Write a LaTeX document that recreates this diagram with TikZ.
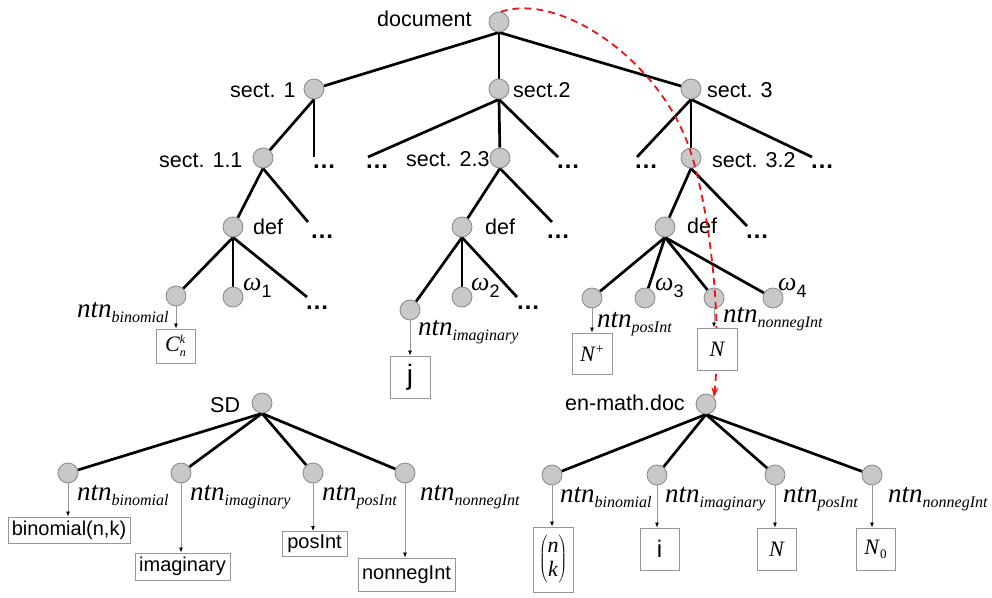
\documentclass[tikz,border=0pt]{standalone}
\usepackage{fontspec}
\setmainfont{Liberation Sans}
\newfontfamily\seriffam{Liberation Serif}
\usetikzlibrary{arrows.meta,backgrounds}

\definecolor{nodefill}{RGB}{200,200,200}
\definecolor{nodeline}{RGB}{135,135,135}
\definecolor{boxline}{RGB}{150,150,150}
\definecolor{refline}{RGB}{150,150,150}
\definecolor{linkred}{RGB}{235,20,20}

% italic "ntn" with a lowered italic index
\newcommand\ntnlabel[1]{{\seriffam\itshape\fontsize{27}{27}\selectfont ntn\raisebox{-5pt}{\fontsize{16}{16}\selectfont #1}}}
% omega with an upright numeric index
\newcommand\omlabel[1]{{\seriffam\itshape\fontsize{26}{26}\selectfont ω}\raisebox{-7pt}{\fontsize{18}{18}\selectfont #1}}

\tikzset{
  vert/.style={circle, minimum size=20pt, inner sep=0pt, fill=nodefill, draw=nodeline, line width=0.8pt},
  treeedge/.style={line width=2.7pt, black},
  lab/.style={anchor=base west, inner sep=0pt, font=\fontsize{21.5}{24}\selectfont},
  ntn/.style={anchor=base west, inner sep=0pt},
  more/.style={anchor=base west, inner sep=0pt, font=\bfseries\fontsize{24}{24}\selectfont},
  valbox/.style 2 args={draw=boxline, line width=0.9pt, fill=white, inner sep=0pt,
    minimum width=#1pt, minimum height=#2pt},
  boxtext/.style={font=\fontsize{20}{22}\selectfont},
  refarrow/.style={draw=refline, line width=0.8pt, -{Latex[length=5pt,width=4pt,color=black]}},
  link/.style={draw=linkred, line width=1.8pt, dash pattern=on 7pt off 5pt,
    -{Stealth[length=10pt,width=7pt,color=linkred]}}
}

\begin{document}
\begin{tikzpicture}[x=1pt,y=-1pt]
\useasboundingbox (0,0) rectangle (992,597);

% ---------- document tree: vertices ----------
\node[vert] (doc) at (499,22) {};
\node[vert] (s1)  at (314,89) {};
\node[vert] (s2)  at (499,89) {};
\node[vert] (s3)  at (691,89) {};
\node[vert] (s11) at (263,158) {};
\node[vert] (s23) at (500,158) {};
\node[vert] (s32) at (691,158) {};
\node[vert] (d1)  at (233,227) {};
\node[vert] (d2)  at (462,227) {};
\node[vert] (d3)  at (665,227) {};
\node[vert] (nb1) at (176,296) {};
\node[vert] (w1)  at (233,297) {};
\node[vert] (ni2) at (410,310) {};
\node[vert] (w2)  at (462,297) {};
\node[vert] (np3) at (592,298) {};
\node[vert] (w3)  at (645,298) {};
\node[vert] (nn3) at (714,298) {};
\node[vert] (w4)  at (773,298) {};

% open branches
\coordinate (s1m)  at (314,157);
\coordinate (s2ml) at (368,157);
\coordinate (s2mr) at (558,157);
\coordinate (s3ml) at (637,157);
\coordinate (s3mr) at (812,157);
\coordinate (s11m) at (308,222);
\coordinate (s23m) at (552,222);
\coordinate (s32m) at (747,226);
\coordinate (d1m)  at (307,297);
\coordinate (d2m)  at (517,297);

\node[more] (t1) at (312,168) {…};
\node[more] (t2) at (365,168) {…};
\node[more] (t3) at (556,168) {…};
\node[more] (t4) at (634,168) {…};
\node[more] (t5) at (810,168) {…};
\node[more] (t6) at (310,238) {…};
\node[more] (t7) at (546,238) {…};
\node[more] (t8) at (745,238) {…};
\node[more] (t9) at (305,309) {…};
\node[more] (t10) at (516,309) {…};

% labels
\node[lab] (ldoc) at (377,26) {document};
\node[lab] (ls1)  at (230,97) {sect. 1};
\node[lab] (ls2)  at (513,97) {sect.2};
\node[lab] (ls3)  at (707,97) {sect. 3};
\node[lab] (ls11) at (159,167) {sect. 1.1};
\node[lab] (ls23) at (406,166) {sect. 2.3};
\node[lab] (ls32) at (712,167) {sect. 3.2};
\node[lab] (ld1)  at (253,234) {def};
\node[lab] (ld2)  at (485,234) {def};
\node[lab] (ld3)  at (687,233) {def};

\node[ntn] (lnb1) at (77,317)  {\ntnlabel{binomial}};
\node[ntn] (lni2) at (418,335) {\ntnlabel{imaginary}};
\node[ntn] (lnp3) at (597,327) {\ntnlabel{posInt}};
\node[ntn] (lnn3) at (723,322) {\ntnlabel{nonnegInt}};
\node[ntn] (lw1) at (243,290) {\omlabel{1}};
\node[ntn] (lw2) at (471,290) {\omlabel{2}};
\node[ntn] (lw3) at (655,290) {\omlabel{3}};
\node[ntn] (lw4) at (778,290) {\omlabel{4}};

% notation values in the document
\node[valbox={39}{34}] (cbox) at (175.5,346)
  {\seriffam\itshape\fontsize{22}{22}\selectfont C\raisebox{-5pt}{\fontsize{12}{12}\selectfont\makebox[0pt][l]{\raisebox{13pt}{k}}n}};
\node[valbox={40}{42}] (jbox) at (410,377) {\fontsize{28}{28}\selectfont j};
\node[valbox={40}{41}] (npbox) at (592,353.5)
  {\seriffam\fontsize{22}{22}\selectfont\textit{N}\raisebox{8pt}{\fontsize{14}{14}\selectfont +}};

% ---------- SD tree ----------
\node[vert] (sd)  at (262,403) {};
\node[vert] (sa)  at (68,473) {};
\node[vert] (sb)  at (181,473) {};
\node[vert] (sc)  at (313,473) {};
\node[vert] (sdd) at (405,473) {};
\node[lab] (lsd) at (210,412) {SD};
\node[ntn] (lsa) at (77,500)  {\ntnlabel{binomial}};
\node[ntn] (lsb) at (190,500) {\ntnlabel{imaginary}};
\node[ntn] (lsc) at (322,500) {\ntnlabel{posInt}};
\node[ntn] (lsd2) at (420,500) {\ntnlabel{nonnegInt}};
\node[valbox={122}{26}, boxtext] (sbox1) at (69,530) {binomial(n,k)};
\node[valbox={95}{27}, boxtext] (sbox2) at (182.5,566.5) {imaginary};
\node[valbox={65}{25}, boxtext] (sbox3) at (314.5,544) {posInt};
\node[valbox={97}{33}, boxtext] (sbox4) at (406.5,574.5) {nonnegInt};

% ---------- en-math.doc tree ----------
\node[vert] (em) at (706,404) {};
\node[vert] (ea) at (552,475) {};
\node[vert] (eb) at (657,475) {};
\node[vert] (ec) at (775,475) {};
\node[vert] (ed) at (872,475) {};
\node[lab] (lem) at (565,410) {en-math.doc};
\node[ntn] (lea) at (560,502) {\ntnlabel{binomial}};
\node[ntn] (leb) at (665,502) {\ntnlabel{imaginary}};
\node[ntn] (lec) at (783,502) {\ntnlabel{posInt}};
\node[ntn] (led) at (888,502) {\ntnlabel{nonnegInt}};
\node[valbox={40}{65}] (ebox1) at (553,559.5)
  {\fontsize{22}{26}\selectfont$\left(\begin{tabular}{@{}c@{}}\seriffam\itshape n\\[-2pt]\seriffam\itshape k\end{tabular}\right)$};
\node[valbox={39}{42}] (ebox2) at (659.5,549) {\fontsize{24}{24}\selectfont i};
\node[valbox={39}{42}] (ebox3) at (776.5,549) {\seriffam\itshape\fontsize{22}{22}\selectfont N};
\node[valbox={39}{42}] (ebox4) at (875.5,549)
  {\seriffam\fontsize{22}{22}\selectfont\textit{N}\raisebox{-4pt}{\fontsize{13}{13}\selectfont 0}};

% ---------- connectors ----------
\begin{scope}[on background layer]
  \fill[white] (0,0) rectangle (992,597);
  \draw[treeedge] (doc.south) -- (s1);
  \draw[treeedge] (doc.south) -- (s2);
  \draw[treeedge] (doc.south) -- (s3);
  \draw[treeedge] (s1.south) -- (s11);
  \draw[treeedge] (s1.south) -- (s1m);
  \draw[treeedge] (s2.south) -- (s2ml);
  \draw[treeedge] (s2.south) -- (s23);
  \draw[treeedge] (s2.south) -- (s2mr);
  \draw[treeedge] (s3.south) -- (s3ml);
  \draw[treeedge] (s3.south) -- (s32);
  \draw[treeedge] (s3.south) -- (s3mr);
  \draw[treeedge] (s11.south) -- (d1);
  \draw[treeedge] (s11.south) -- (s11m);
  \draw[treeedge] (s23.south) -- (d2);
  \draw[treeedge] (s23.south) -- (s23m);
  \draw[treeedge] (s32.south) -- (d3);
  \draw[treeedge] (s32.south) -- (s32m);
  \draw[treeedge] (d1.south) -- (nb1);
  \draw[treeedge] (d1.south) -- (w1);
  \draw[treeedge] (d1.south) -- (d1m);
  \draw[treeedge] (d2.south) -- (ni2);
  \draw[treeedge] (d2.south) -- (w2);
  \draw[treeedge] (d2.south) -- (d2m);
  \draw[treeedge] (d3.south) -- (np3);
  \draw[treeedge] (d3.south) -- (w3);
  \draw[treeedge] (d3.south) -- (nn3);
  \draw[treeedge] (d3.south) -- (w4);
  \draw[treeedge] (sd.south) -- (sa);
  \draw[treeedge] (sd.south) -- (sb);
  \draw[treeedge] (sd.south) -- (sc);
  \draw[treeedge] (sd.south) -- (sdd);
  \draw[treeedge] (em.south) -- (ea);
  \draw[treeedge] (em.south) -- (eb);
  \draw[treeedge] (em.south) -- (ec);
  \draw[treeedge] (em.south) -- (ed);
\end{scope}

% link from the document to the notation document
\coordinate (bend) at (690,150);
\draw[link] (doc.80) .. controls (560,-8) and (660,60) .. (bend)
  .. controls (710,210) and (722,320) .. (em.40);

% the value box of the non-negative integers lies over the link
\node[valbox={40}{42}] (nbox) at (717,349) {\seriffam\itshape\fontsize{22}{22}\selectfont N};

% notation references
\draw[refarrow] (nb1.south) -- (nb1.south |- cbox.north);
\draw[refarrow] (ni2.south) -- (ni2.south |- jbox.north);
\draw[refarrow] (np3.south) -- (np3.south |- npbox.north);
\draw[refarrow] (nn3.south) -- (nn3.south |- nbox.north);
\draw[refarrow] (sa.south) -- (sa.south |- sbox1.north);
\draw[refarrow] (sb.south) -- (sb.south |- sbox2.north);
\draw[refarrow] (sc.south) -- (sc.south |- sbox3.north);
\draw[refarrow] (sdd.south) -- (sdd.south |- sbox4.north);
\draw[refarrow] (ea.south) -- (ea.south |- ebox1.north);
\draw[refarrow] (eb.south) -- (eb.south |- ebox2.north);
\draw[refarrow] (ec.south) -- (ec.south |- ebox3.north);
\draw[refarrow] (ed.south) -- (ed.south |- ebox4.north);
\end{tikzpicture}
\end{document}
